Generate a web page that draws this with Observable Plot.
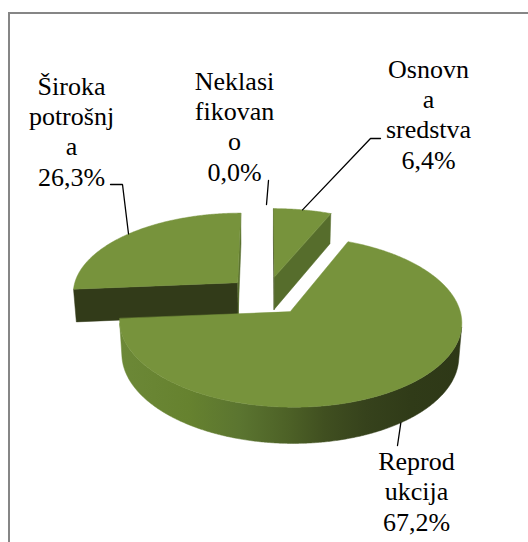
<!DOCTYPE html>
<html><head><meta charset="utf-8">
<script src="https://cdn.jsdelivr.net/npm/d3@7"></script>
<script src="https://cdn.jsdelivr.net/npm/@observablehq/plot@0.6"></script>
<style>
html,body{margin:0;padding:0;background:#fff;font-family:"Liberation Serif",serif;}
#chart svg{display:block;}
#chart svg text, #chart svg tspan{font-family:"Liberation Serif","Times New Roman",serif !important;}
</style>
</head><body><div id="chart"></div>
<script>
// ---- data ----
const categories = ["Osnovna sredstva", "Reprodukcija", "Neklasifikovano", "Široka potrošnja"];
const shares = [6.4, 67.2, 0.0, 26.3];
const labelLines = [["Osnovn", "a", "sredstva"], ["Reprod", "ukcija"], ["Neklasi", "fikovan", "o"], ["Široka", "potrošnj", "a"]];

// ---- layout / style ----
const W = 528, H = 542;
const cam = {cx: 266, cy: 295, f: 1245, D: 7.5, tilt: 29};
const depth = 0.23, explode = 0.24;
const topColor = "#77933c";
const startFaceColor = "#323b19";
const endFaceColor = "#566d2c";
const sideSolid = "#3a4620";
const sideStops = [[0, "#6c8837"], [0.2, "#66822f"], [0.35, "#5b7530"], [0.5, "#4c6026"], [0.6, "#404f20"], [0.72, "#36421c"], [0.85, "#303b18"], [1, "#2e3817"]];
const labelLayout = [
  {x: 428, y: 168, path: [[380, 138], [370, 138]], rim: "top"},
  {x: 416, y: 530, path: [[397, 445]], rim: "bottom"},
  {x: 234, y: 180, path: [[268, 180], [266, 204]]},
  {x: 71, y: 185, path: [[110, 184], [122, 184]], rim: "top"}
];
const serif = "Liberation Serif, Times New Roman, serif";

const phi = cam.tilt * Math.PI / 180, sP = Math.sin(phi), cP = Math.cos(phi);
function proj(X, Y, Z) {
  const yc = Y * cP + Z * sP;
  const zc = -Y * sP + Z * cP + cam.D;
  return [cam.cx + cam.f * X / zc, cam.cy - cam.f * yc / zc];
}
const rad = a => a * Math.PI / 180;

const total = d3.sum(shares);
let acc = 0;
const slices = categories.map((c, i) => {
  const a0 = acc / total * 360; acc += shares[i]; const a1 = acc / total * 360;
  return {c, i, a0, a1, mid: (a0 + a1) / 2};
});
function pt(s, r, th, Y) {
  const t = rad(th), m = rad(s.mid);
  return proj(r * Math.sin(t) + explode * Math.sin(m), Y, r * Math.cos(t) + explode * Math.cos(m));
}
const camW = [0, cam.D * sP, -cam.D * cP];
function visible(s, normalAngle, r, th) {
  const m = rad(s.mid), t = rad(th);
  const px = r * Math.sin(t) + explode * Math.sin(m), pz = r * Math.cos(t) + explode * Math.cos(m);
  const n = rad(normalAngle);
  return Math.sin(n) * (camW[0] - px) + Math.cos(n) * (camW[2] - pz) > 0;
}

const toRows = (points, id) => points.map(([x, y]) => ({id, x, y}));
const pieMarks = [];
let pid = 0;
function polyMark(points, fill) {
  pieMarks.push(Plot.line(toRows(points, pid++), {x: "x", y: "y", z: "id", fill, stroke: fill, strokeWidth: 0.5, curve: "linear-closed"}));
}
const order = [3, 0, 1];
for (const k of order) {
  const s = slices[k];
  if (s.a1 <= s.a0) continue;
  if (visible(s, s.a0 - 90, 0, 0)) polyMark([pt(s, 0, 0, 0), pt(s, 1, s.a0, 0), pt(s, 1, s.a0, -depth), pt(s, 0, 0, -depth)], startFaceColor);
  if (visible(s, s.a1 + 90, 0, 0)) polyMark([pt(s, 0, 0, 0), pt(s, 1, s.a1, 0), pt(s, 1, s.a1, -depth), pt(s, 0, 0, -depth)], endFaceColor);
  const vis = [];
  for (let t = s.a0; t <= s.a1 + 1e-9; t += Math.min(0.5, s.a1 - s.a0)) if (visible(s, t, 1, t)) vis.push(t);
  if (vis.length > 1) {
    const up = vis.map(t => pt(s, 1, t, 0));
    const dn = vis.slice().reverse().map(t => pt(s, 1, t, -depth));
    polyMark([...up, ...dn], vis[vis.length - 1] - vis[0] > 30 ? "url(#sideGrad)" : sideSolid);
  }
  const top = [pt(s, 0, 0, 0)];
  const m = Math.max(2, Math.ceil((s.a1 - s.a0) * 2));
  for (let j = 0; j <= m; j++) top.push(pt(s, 1, s.a0 + (s.a1 - s.a0) * j / m, 0));
  polyMark(top, topColor);
}

const fmt = v => v.toFixed(1).replace(".", ",") + "%";
const labels = slices.map((s, i) => ({
  text: [...labelLines[i], fmt(shares[i])].join("\n"),
  x: labelLayout[i].x, y: labelLayout[i].y
}));
const leaders = [];
slices.forEach((s, i) => {
  const L = labelLayout[i];
  const pts = [...L.path];
  if (L.rim) pts.push(pt(s, 1, s.mid, L.rim === "top" ? 0 : -depth));
  pts.forEach(([x, y]) => leaders.push({id: i, x, y}));
});

const chart = Plot.plot({
  width: W, height: H, margin: 0,
  x: {domain: [0, W], range: [0, W], axis: null},
  y: {domain: [0, H], range: [0, H], axis: null},
  style: `background:#fff;font-family:${serif};`,
  marks: [
    Plot.rect([0], {x1: () => 9, x2: () => 560, y1: () => 13, y2: () => 580, fill: "none", stroke: "#868686", strokeWidth: 2}),
    ...pieMarks,
    Plot.line(leaders, {x: "x", y: "y", z: "id", stroke: "#000", strokeWidth: 1.3, strokeLinejoin: "miter"}),
    Plot.text(labels, {x: "x", y: "y", text: "text", fontSize: 26, fontFamily: serif, lineAnchor: "bottom", lineHeight: 1.165, textAnchor: "middle", fill: "#000"})
  ]
});
const grad = d3.select(chart).insert("defs", ":first-child").append("linearGradient").attr("id", "sideGrad").attr("x1", 0).attr("x2", 1).attr("y1", 0).attr("y2", 0);
sideStops.forEach(([o, c]) => grad.append("stop").attr("offset", o).attr("stop-color", c));
document.getElementById("chart").appendChild(chart);
</script>
</body></html>
